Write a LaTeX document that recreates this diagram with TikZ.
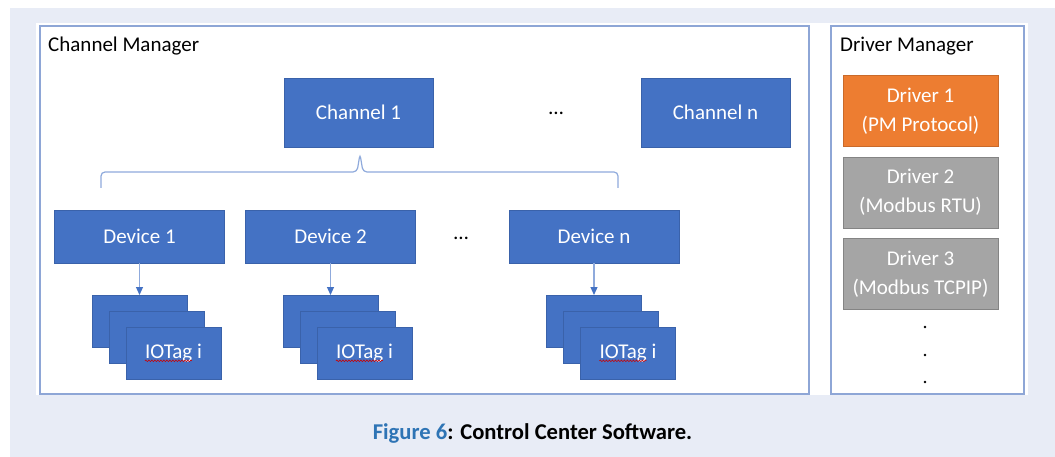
\documentclass[tikz,border=0pt]{standalone}
\usepackage{fontspec}
\setmainfont{Carlito}
\usetikzlibrary{arrows.meta,decorations.pathmorphing}
\definecolor{pagebg}{HTML}{E8ECF6}
\definecolor{frameline}{HTML}{8EA6D6}
\definecolor{boxblue}{HTML}{4472C4}
\definecolor{boxedge}{HTML}{3A62AA}
\definecolor{drvorange}{HTML}{ED7D31}
\definecolor{drvgray}{HTML}{A5A5A5}
\definecolor{capblue}{HTML}{2E74B5}
\definecolor{linkblue}{HTML}{8FAADC}

\begin{document}
\begin{tikzpicture}[x=1pt,y=-1pt,font=\fontsize{21}{25}\selectfont,
  box/.style={draw=boxedge,line width=0.8pt,fill=boxblue,text=white,inner sep=0pt},
  chanbox/.style={box,minimum width=149pt,minimum height=69pt},
  devbox/.style={box,minimum width=170pt,minimum height=53pt},
  tagbox/.style={box,minimum width=95pt,minimum height=52pt},
  drvbox/.style={box,minimum width=155pt,minimum height=71pt,align=center,font=\fontsize{21}{29}\selectfont},
  frame/.style={draw=frameline,line width=1.2pt},
  link/.style={draw=linkblue,line width=1.2pt,-{Triangle[length=8pt,width=7pt,color=boxblue]}},
  spell/.style={draw=red!80!black,line width=0.6pt,decorate,decoration={snake,amplitude=0.8pt,segment length=3pt}}]
  \useasboundingbox (0,0) rectangle (1055,457);
  \fill[pagebg] (10,8) rectangle (1055,457);
  \fill[white] (36,23) rectangle (1028,395);
  \draw[frame] (40,26) rectangle (809,394);
  \draw[frame] (831,26) rectangle (1024,394);
  \node[anchor=base west,inner sep=0pt] (chmgr) at (48,52) {Channel Manager};
  \node[anchor=base west,inner sep=0pt] (drvmgr) at (840,52) {Driver Manager};
  % channels
  \node[chanbox] (ch1) at (358.5,112.5) {Channel 1};
  \node[chanbox] (chn) at (715.5,112.5) {Channel n};
  \node (chdots) at (556,113) {…};
  \draw[linkblue,line width=1.2pt,rounded corners=4pt] (101,188) -- (101,172) -- (357,172)
    -- (360,154) -- (363,172) -- (618,172) -- (618,188);
  % devices and their tag stacks
  \foreach \x/\t [count=\k] in {139.5/1,330.5/2,594/n}{
    \node[devbox] (dev\k) at (\x,236.5) {Device \t};
    \foreach \j in {0,1,2}{\path (dev\k.south) ++(17*\j,58+16*\j) node[tagbox] (tag\k-\j) {};}
    \node[text=white,inner sep=0pt] (lbl\k) at (tag\k-2) {IOTag i};
    \draw[spell] ([yshift=-2pt]lbl\k.base west) -- ++(47,0);
    \draw[link] (dev\k) -- (tag\k-0);
  }
  \node (devdots) at (461,238) {…};
  % drivers
  \node[drvbox,fill=drvorange,draw=drvorange!85!black] (drv1) at (920.5,111) {Driver 1\\(PM Protocol)};
  \node[drvbox,fill=drvgray,draw=drvgray!80!black] (drv2) at (920.5,192.5) {Driver 2\\(Modbus RTU)};
  \node[drvbox,fill=drvgray,draw=drvgray!80!black] (drv3) at (920.5,274) {Driver 3\\(Modbus TCPIP)};
  \foreach \y in {327,355,382}{\fill (925,\y) circle (1.3);}
  \node[font=\bfseries\fontsize{22.6}{26}\selectfont,anchor=base,inner sep=0pt] (cap) at (532.5,439)
    {\textcolor{capblue}{Figure 6}: Control Center Software.};
\end{tikzpicture}
\end{document}
